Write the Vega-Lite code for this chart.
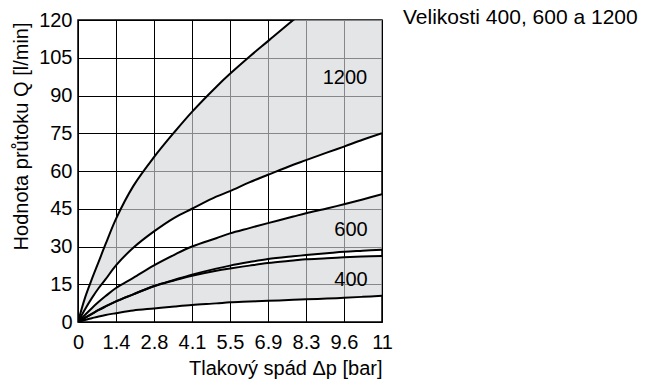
{
  "$schema": "https://vega.github.io/schema/vega-lite/v6.json",
  "width": 304,
  "height": 302,
  "autosize": {"type": "none"},
  "padding": {"left": 78, "top": 20, "right": 265, "bottom": 57},
  "title": {"text": "Velikosti 400, 600 a 1200", "orient": "top", "anchor": "start", "frame": "group", "dx": 325, "dy": 35, "offset": 0, "baseline": "alphabetic", "font": "Liberation Sans", "fontSize": 21, "fontWeight": "normal", "color": "#000"},
  "datasets": {
    "bands": [
      {"b":"1200","x":0,"hi":0,"lo":0},
      {"b":"1200","x":0.25,"hi":9.5,"lo":5},
      {"b":"1200","x":0.5,"hi":17,"lo":9.5},
      {"b":"1200","x":0.75,"hi":24,"lo":13.5},
      {"b":"1200","x":1,"hi":31,"lo":17},
      {"b":"1200","x":1.375,"hi":41,"lo":22.5},
      {"b":"1200","x":2,"hi":54,"lo":29.5},
      {"b":"1200","x":2.75,"hi":65.5,"lo":36},
      {"b":"1200","x":3.5,"hi":75.6,"lo":41.5},
      {"b":"1200","x":4.125,"hi":83.5,"lo":45},
      {"b":"1200","x":5,"hi":93.4,"lo":49.8},
      {"b":"1200","x":5.5,"hi":98.6,"lo":52},
      {"b":"1200","x":6.2,"hi":105.4,"lo":55.5},
      {"b":"1200","x":6.875,"hi":111.6,"lo":58.5},
      {"b":"1200","x":7.79,"hi":120,"lo":62.5},
      {"b":"1200","x":8.25,"hi":124,"lo":64.3},
      {"b":"1200","x":9,"hi":130,"lo":67.3},
      {"b":"1200","x":9.625,"hi":135,"lo":69.7},
      {"b":"1200","x":10.3,"hi":140,"lo":72.4},
      {"b":"1200","x":11,"hi":145,"lo":75},
      {"b":"600","x":0,"hi":0,"lo":0},
      {"b":"600","x":0.25,"hi":2.8,"lo":1.6},
      {"b":"600","x":0.5,"hi":5.5,"lo":3.2},
      {"b":"600","x":0.75,"hi":8,"lo":4.8},
      {"b":"600","x":1,"hi":10.3,"lo":6.2},
      {"b":"600","x":1.375,"hi":13.5,"lo":8.2},
      {"b":"600","x":2,"hi":17.5,"lo":11},
      {"b":"600","x":2.75,"hi":22.5,"lo":14.3},
      {"b":"600","x":3.5,"hi":26.8,"lo":16.8},
      {"b":"600","x":4.125,"hi":30,"lo":18.8},
      {"b":"600","x":5,"hi":33.3,"lo":21.2},
      {"b":"600","x":5.5,"hi":35.2,"lo":22.4},
      {"b":"600","x":6.2,"hi":37.3,"lo":23.8},
      {"b":"600","x":6.875,"hi":39.3,"lo":25},
      {"b":"600","x":7.79,"hi":41.9,"lo":26.1},
      {"b":"600","x":8.25,"hi":43.2,"lo":26.6},
      {"b":"600","x":9,"hi":45.1,"lo":27.3},
      {"b":"600","x":9.625,"hi":46.8,"lo":27.9},
      {"b":"600","x":10.3,"hi":48.7,"lo":28.3},
      {"b":"600","x":11,"hi":50.8,"lo":28.7},
      {"b":"400","x":0,"hi":0,"lo":0},
      {"b":"400","x":0.25,"hi":1.6,"lo":0.8},
      {"b":"400","x":0.5,"hi":3.2,"lo":1.5},
      {"b":"400","x":0.75,"hi":4.8,"lo":2.2},
      {"b":"400","x":1,"hi":6.2,"lo":2.8},
      {"b":"400","x":1.375,"hi":8.2,"lo":3.5},
      {"b":"400","x":2,"hi":11,"lo":4.6},
      {"b":"400","x":2.75,"hi":14.2,"lo":5.4},
      {"b":"400","x":3.5,"hi":16.6,"lo":6.2},
      {"b":"400","x":4.125,"hi":18.4,"lo":6.8},
      {"b":"400","x":5,"hi":20.4,"lo":7.4},
      {"b":"400","x":5.5,"hi":21.3,"lo":7.8},
      {"b":"400","x":6.2,"hi":22.4,"lo":8.1},
      {"b":"400","x":6.875,"hi":23.4,"lo":8.4},
      {"b":"400","x":7.79,"hi":24.4,"lo":8.8},
      {"b":"400","x":8.25,"hi":24.9,"lo":9},
      {"b":"400","x":9,"hi":25.3,"lo":9.3},
      {"b":"400","x":9.625,"hi":25.7,"lo":9.6},
      {"b":"400","x":10.3,"hi":26,"lo":10},
      {"b":"400","x":11,"hi":26.2,"lo":10.4}
    ],
    "labels": [
      {"t":"1200","x":9.66,"y":96.8},
      {"t":"600","x":9.88,"y":36.5},
      {"t":"400","x":9.88,"y":16.8}
    ]
  },
  "encoding": {
    "x": {
      "field": "x", "type": "quantitative",
      "scale": {"domain": [0, 11], "nice": false, "zero": true},
      "title": "Tlakový spád Δp [bar]",
      "axis": {
        "values": [0, 1.375, 2.75, 4.125, 5.5, 6.875, 8.25, 9.625, 11],
        "format": ".1~f",
        "labelPadding": 10,
        "labelFlush": false,
        "labelOverlap": false,
        "titleAnchor": "end",
        "titleAlign": "right",
        "titleX": 304,
        "titleY": 52,
        "titleBaseline": "alphabetic"
      }
    }
  },
  "layer": [
    {
      "data": {"name": "bands"},
      "mark": {"type": "area", "interpolate": "catmull-rom", "fill": "#d5d6d9", "fillOpacity": 0.63, "stroke": null, "clip": true},
      "encoding": {
        "y": {
          "field": "hi", "type": "quantitative",
          "scale": {"domain": [0, 120], "nice": false},
          "title": "Hodnota průtoku Q [l/min]",
          "axis": {"values": [0, 15, 30, 45, 60, 75, 90, 105, 120], "labelPadding": 6, "labelFlush": false, "labelOverlap": false, "titleAnchor": "end", "titleAlign": "right", "titleX": -51, "titleY": 2, "titleBaseline": "alphabetic"}
        },
        "y2": {"field": "lo"},
        "detail": {"field": "b"}
      }
    },
    {
      "data": {"name": "bands"},
      "mark": {"type": "line", "interpolate": "catmull-rom", "color": "#000", "strokeWidth": 2, "clip": true},
      "encoding": {
        "y": {
          "field": "hi", "type": "quantitative",
          "title": "Hodnota průtoku Q [l/min]",
          "axis": {"values": [0, 15, 30, 45, 60, 75, 90, 105, 120], "labelPadding": 6, "labelFlush": false, "labelOverlap": false, "titleAnchor": "end", "titleAlign": "right", "titleX": -51, "titleY": 2, "titleBaseline": "alphabetic"}
        },
        "detail": {"field": "b"}
      }
    },
    {
      "data": {"name": "bands"},
      "mark": {"type": "line", "interpolate": "catmull-rom", "color": "#000", "strokeWidth": 2, "clip": true},
      "encoding": {
        "y": {
          "field": "lo", "type": "quantitative",
          "title": "Hodnota průtoku Q [l/min]",
          "axis": {"values": [0, 15, 30, 45, 60, 75, 90, 105, 120], "labelPadding": 6, "labelFlush": false, "labelOverlap": false, "titleAnchor": "end", "titleAlign": "right", "titleX": -51, "titleY": 2, "titleBaseline": "alphabetic"}
        },
        "detail": {"field": "b"}
      }
    },
    {
      "data": {"name": "labels"},
      "mark": {"type": "text", "font": "Liberation Sans", "fontSize": 20, "color": "#000", "align": "center", "baseline": "middle"},
      "encoding": {
        "y": {
          "field": "y", "type": "quantitative",
          "title": "Hodnota průtoku Q [l/min]",
          "axis": {"values": [0, 15, 30, 45, 60, 75, 90, 105, 120], "labelPadding": 6, "labelFlush": false, "labelOverlap": false, "titleAnchor": "end", "titleAlign": "right", "titleX": -51, "titleY": 2, "titleBaseline": "alphabetic"}
        },
        "text": {"field": "t"}
      }
    }
  ],
  "config": {
    "font": "Liberation Sans",
    "view": {"stroke": "#000", "strokeWidth": 1.5},
    "axis": {
      "grid": true, "gridColor": "#000", "gridWidth": 1, "gridOpacity": 1,
      "domain": false, "ticks": false, "tickSize": 0,
      "labelFont": "Liberation Sans", "labelFontSize": 20, "labelColor": "#000",
      "titleFont": "Liberation Sans", "titleFontSize": 20, "titleFontWeight": "normal", "titleColor": "#000"
    }
  }
}
